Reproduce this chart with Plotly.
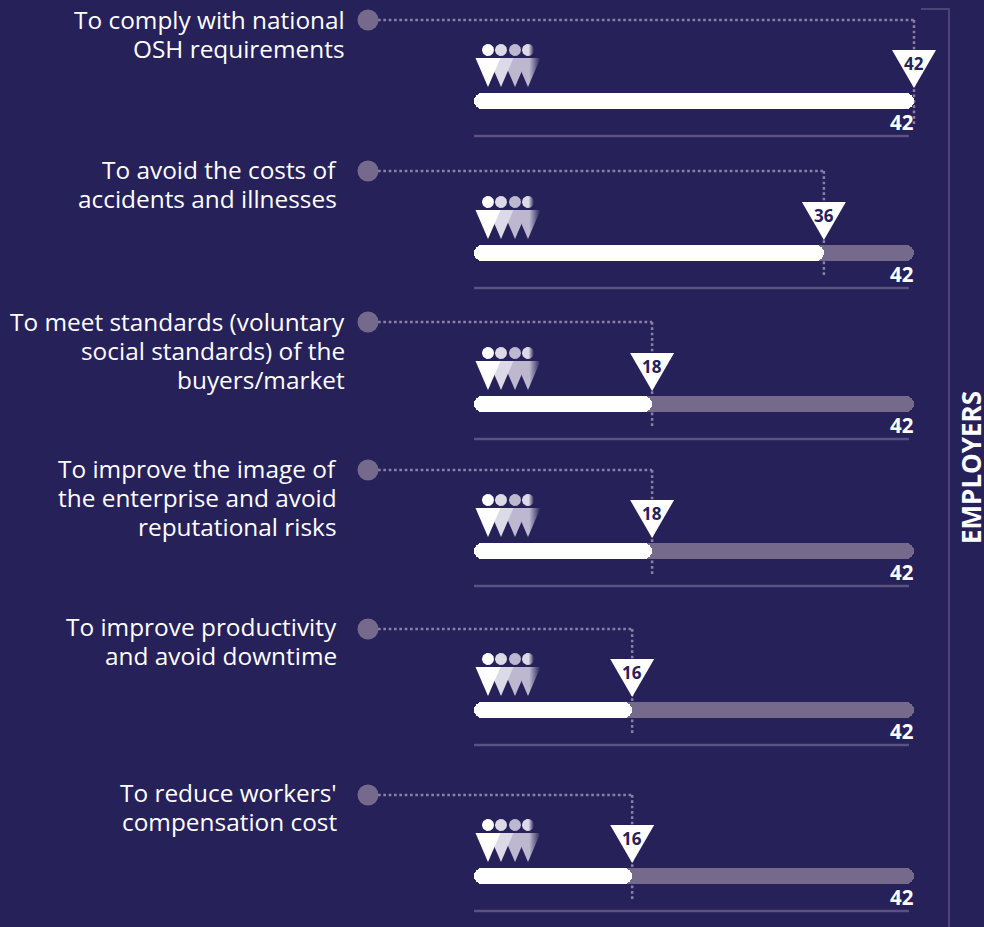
# plot.py - employers' motivations for OSH, dark slide layout

import numpy as np
import plotly.graph_objects as go

categories = [
    "To comply with national<br>OSH requirements",
    "To avoid the costs of<br>accidents and illnesses",
    "To meet standards (voluntary<br>social standards) of the<br>buyers/market",
    "To improve the image of<br>the enterprise and avoid<br>reputational risks",
    "To improve productivity<br>and avoid downtime",
    "To reduce workers'<br>compensation cost",
]
# printed counts, and the bar lengths as the picture actually draws them
counts = [42, 36, 18, 18, 16, 16]
drawn_lengths = [42, 33.4, 17, 17, 15.1, 15.1]
total = 42

BG = '#27215a'
TRACK = '#756a8c'
RULE = '#5a5280'
DOT = '#756a8c'
DOTTED = '#8880a6'

# the y axis runs in page pixels, one row of geometry per category
W, H = 984, 927
bar_y = [101, 253, 404, 551, 710, 876]
rule_y = [136, 288, 439, 586, 745, 911]
dot_y = [20, 171, 322, 470, 629, 795]
label_right = [345, 337.3, 345, 337.3, 337.3, 337.3]
label_y = [19, 169, 321, 468, 626, 792]
k = 440 / total  # pixels per unit
x_range = [-474 / k, (W - 474) / k]
base = 0.001  # an explicit base makes plotly round both ends of a bar


def px(p):
    return (p - 474) / k


fig = go.Figure()

# grey track and white value bar
fig.add_trace(go.Bar(
    y=bar_y, x=[total - base] * 6, base=base, orientation='h', width=16,
    marker=dict(color=TRACK, cornerradius=8, line_width=0), hoverinfo='skip',
))
fig.add_trace(go.Bar(
    y=bar_y, x=[v - base for v in drawn_lengths], base=base, orientation='h', width=16,
    marker=dict(color='white', cornerradius=8, line_width=0), hoverinfo='skip',
))


def add_poly(xs, ys, color=None, fade=None):
    trace = dict(x=xs, y=ys, mode='lines', fill='toself', line_width=0, hoverinfo='skip')
    if fade:
        trace['fillgradient'] = dict(
            type='horizontal', colorscale=[[0, fade], [0.55, fade], [1, BG]])
    else:
        trace['fillcolor'] = color
    fig.add_trace(go.Scatter(**trace))


# little people icon, back figure first
people_px = [528, 515, 501, 488]
people_col = [None, '#bdb8cf', '#dcdae6', '#ffffff']
angle = np.linspace(0, 2 * np.pi, 40)
for by in bar_y:
    for cx, col in zip(people_px, people_col):
        fade = '#bdb8cf' if col is None else None
        add_poly([px(cx - 12.5), px(cx + 12.5), px(cx)],
                 [by - 43, by - 43, by - 14], col, fade)
        add_poly(list(px(cx + 6 * np.cos(angle))), list(by - 51 + 6 * np.sin(angle)), col,
                 '#dcdae6' if col is None else None)

shapes = []
annotations = []
for i, length in enumerate(drawn_lengths):
    by = bar_y[i]
    # rule under the row
    shapes.append(dict(type='line', layer='below', x0=0, x1=px(909), y0=rule_y[i], y1=rule_y[i],
                       line=dict(color=RULE, width=2.5)))
    # leader from the dot over to the bar end
    shapes.append(dict(type='line', layer='below', x0=px(378), x1=length, y0=dot_y[i], y1=dot_y[i],
                       line=dict(color=DOTTED, width=2.5, dash='2.7px,2.63px')))
    shapes.append(dict(type='line', layer='below', x0=length, x1=length, y0=dot_y[i], y1=by + 23,
                       line=dict(color=DOTTED, width=2.5, dash='2.7px,2.63px')))
    shapes.append(dict(type='circle', layer='above', x0=px(357.5), x1=px(378.5),
                       y0=dot_y[i] - 10.5, y1=dot_y[i] + 10.5,
                       fillcolor=DOT, line_width=0))
    # white pointer with the count in it
    shapes.append(dict(type='path', layer='above',
                       path=f'M {length - 22 / k},{by - 51} L {length + 22 / k},{by - 51} '
                            f'L {length},{by - 13} Z',
                       fillcolor='white', line_width=0))
    annotations.append(dict(x=length, y=by - 38, text=f'<b>{counts[i]}</b>', showarrow=False,
                            font=dict(family='Open Sans', size=17, color=BG)))
    annotations.append(dict(x=total, y=by + 21, text=f'<b>{total}</b>', showarrow=False, xanchor='right',
                            xshift=2, font=dict(family='Open Sans', size=20.5, color='white')))
    # one annotation per line, the original leading is tighter than plotly's
    for j, line in enumerate(categories[i].split('<br>')):
        annotations.append(dict(x=px(label_right[i]), y=label_y[i] + 29 * j, text=line, showarrow=False,
                                xanchor='right', xshift=2,
                                font=dict(family='Open Sans', size=24.4, color='white')))

# bracket on the right
shapes.append(dict(type='path', layer='below', path=f'M {px(921)},9 L {px(949)},9 L {px(949)},{H}',
                   line=dict(color=RULE, width=1.5)))
annotations.append(dict(x=px(971), y=468, text='<b>EMPLOYERS</b>', textangle=-90, showarrow=False,
                        font=dict(family='Open Sans', size=26, color='white')))

fig.update_layout(
    width=W, height=H, margin=dict(l=0, r=0, t=0, b=0),
    paper_bgcolor=BG, plot_bgcolor=BG,
    barmode='overlay', showlegend=False, bargap=0,
    xaxis=dict(range=x_range, visible=False, fixedrange=True),
    yaxis=dict(range=[H, 0], visible=False, fixedrange=True),
    shapes=shapes, annotations=annotations,
)

fig.write_html("out.html", config=dict(displayModeBar=False),
               post_script="document.body.style.margin='0';")
